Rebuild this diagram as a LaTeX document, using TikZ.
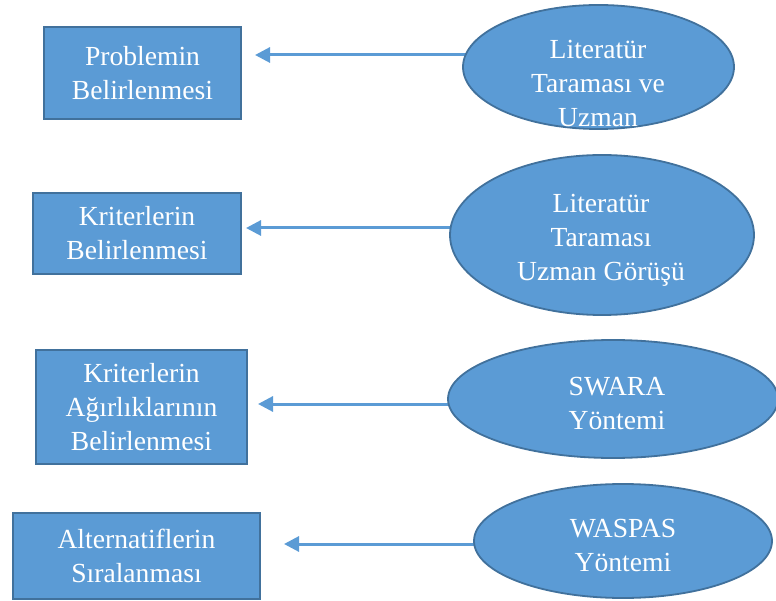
\documentclass[tikz,border=0pt]{standalone}
\usepackage{xcolor}
\usepackage{fontspec}
\setmainfont{Liberation Serif}
\usepackage{tikz}
\usetikzlibrary{shapes.geometric, arrows.meta, backgrounds}
\definecolor{officeblue}{RGB}{91,155,213}
\definecolor{officeedge}{RGB}{65,113,156}

\begin{document}
\begin{tikzpicture}[
  x=1pt, y=-1pt,
  stepbox/.style={rectangle, draw=officeedge, line width=1.8pt, fill=officeblue, inner sep=0pt, align=center, text=white, font=\fontsize{27.6}{34}\selectfont},
  source/.style={ellipse, draw=officeedge, line width=1.8pt, fill=officeblue, inner sep=0pt},
  srctext/.style={align=center, text=white, inner sep=0pt, font=\fontsize{27.6}{34}\selectfont},
  arrow/.style={-{Triangle[length=15pt, width=15pt]}, line width=3pt, draw=officeblue}
]
\useasboundingbox (0,0) rectangle (776,601);

% Steps on the left
\node[stepbox, minimum width=197pt, minimum height=92pt] (problem) at (142.5,73) {Problemin\\Belirlenmesi};
\node[stepbox, minimum width=208pt, minimum height=81pt] (kriter) at (137,233.5) {Kriterlerin\\Belirlenmesi};
\node[stepbox, minimum width=211pt, minimum height=114pt] (agirlik) at (141.5,407) {Kriterlerin\\Ağırlıklarının\\Belirlenmesi};
\node[stepbox, minimum width=247pt, minimum height=86pt] (sirala) at (136.5,556) {Alternatiflerin\\Sıralanması};

% Methods on the right
\node[source, minimum width=271pt, minimum height=124pt] (lit1) at (598.5,67) {};
\node[srctext] (lit1txt) at (598,84) {Literatür\\Taraması ve\\Uzman};

\node[source, minimum width=304pt, minimum height=160pt] (lit2) at (602,235) {};
\node[srctext] (lit2txt) at (601,240) {Literatür\\Taraması\\Uzman Görüşü};

\node[source, minimum width=330pt, minimum height=118pt] (swara) at (613,399) {};
\node[srctext] (swaratxt) at (617,403) {SWARA\\Yöntemi};

\node[source, minimum width=298pt, minimum height=114pt] (waspas) at (623,541) {};
\node[srctext] (waspastxt) at (623,545) {WASPAS\\Yöntemi};

% Arrow tips
\coordinate (tip1) at (255,55);
\coordinate (tip2) at (246,228);
\coordinate (tip3) at (258,404);
\coordinate (tip4) at (284,544);

\begin{scope}[on background layer]
\draw[arrow] (lit1.center |- tip1) -- (tip1);
\draw[arrow] (lit2.center |- tip2) -- (tip2);
\draw[arrow] (swara.center |- tip3) -- (tip3);
\draw[arrow] (waspas.center |- tip4) -- (tip4);
\end{scope}

\end{tikzpicture}
\end{document}
